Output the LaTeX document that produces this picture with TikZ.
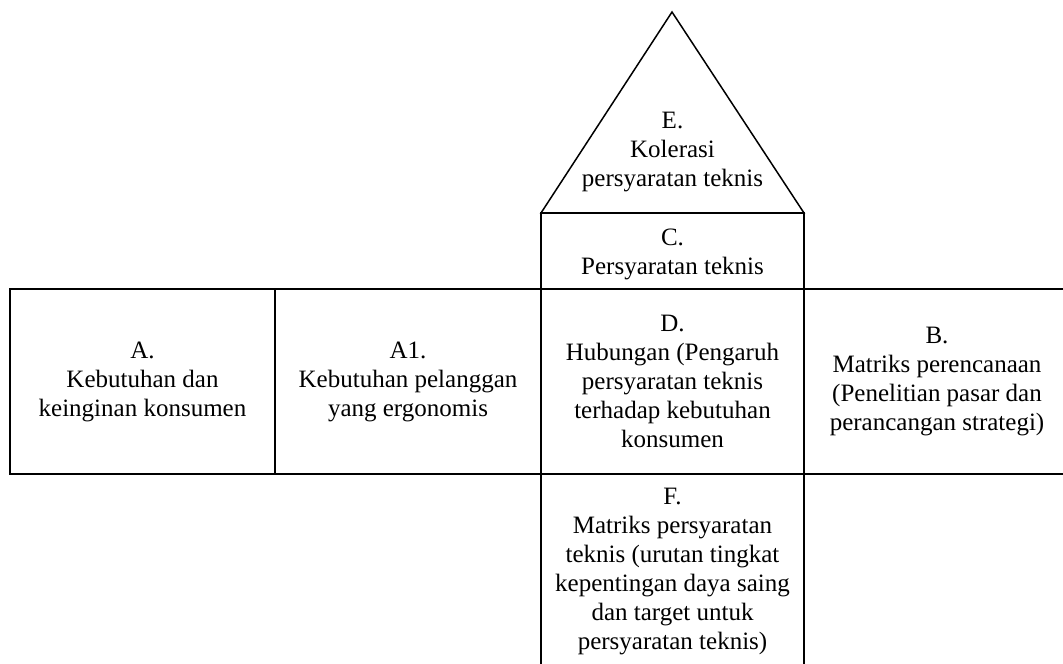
\documentclass[tikz,border=0pt]{standalone}
\usepackage{fontspec}
\setmainfont{Liberation Serif}
\begin{document}
\begin{tikzpicture}[x=1pt,y=1pt,
  txt/.style={align=center, inner sep=0pt, outer sep=0pt, font=\fontsize{25}{29}\selectfont},
  box/.style={txt, draw, line width=1.5pt},
  edge/.style={line width=1.5pt, line join=miter}]
\useasboundingbox (0,0) rectangle (1063,664);
% triangle (roof)
\coordinate (apex) at (672,652);
\coordinate (bl) at (541,451);
\coordinate (br) at (804,451);
\draw[edge] (bl) -- (apex) -- (br) -- cycle;
\node[txt] (E) at (672.5,512) {E.\\Kolerasi\\persyaratan teknis};
% C
\node[box, minimum width=263, minimum height=76] (C) at (672.5,413) {};
\node[txt] (Ct) at (672.5,410) {C.\\Persyaratan teknis};
% main row
\node[box, minimum width=265, minimum height=185] (A) at (142.5,282.5) {A.\\Kebutuhan dan\\keinginan konsumen};
\node[box, minimum width=266, minimum height=185] (A1) at (408,282.5) {A1.\\Kebutuhan pelanggan\\yang ergonomis};
\node[box, minimum width=263, minimum height=185] (D) at (672.5,282.5) {D.\\Hubungan (Pengaruh\\persyaratan teknis\\terhadap kebutuhan\\konsumen};
\node[txt] (B) at (937,282.5) {B.\\Matriks perencanaan\\(Penelitian pasar dan\\perancangan strategi)};
\coordinate (Btr) at (1063,375);
\coordinate (Bbr) at (1063,190);
\draw[edge] (D.north east) -- (Btr);
\draw[edge] (D.south east) -- (Bbr);
% F (open at the bottom)
\coordinate (Fbl) at (541,0);
\coordinate (Fbr) at (804,0);
\draw[edge] (D.south west) -- (Fbl);
\draw[edge] (D.south east) -- (Fbr);
\node[txt] (F) at (672.5,92) {F.\\Matriks persyaratan\\teknis (urutan tingkat\\kepentingan daya saing\\dan target untuk\\persyaratan teknis)};
\end{tikzpicture}
\end{document}
